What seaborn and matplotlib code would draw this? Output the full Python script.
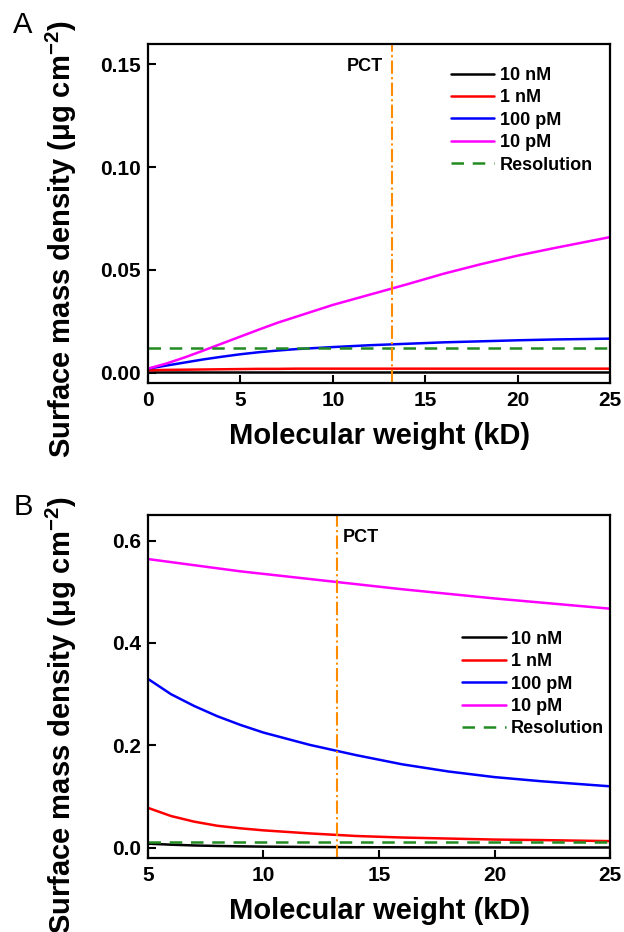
import numpy as np
import pandas as pd
import matplotlib
matplotlib.use("Agg")
import matplotlib.pyplot as plt
import seaborn as sns

# Panel A: molecular weight 0-25 kD
mw_a = [0, 1, 2, 3, 4, 5, 6, 7, 8, 10, 12, 14, 16, 18, 20, 22, 25]
a_10nM = [0.0005, 0.0005, 0.0005, 0.0005, 0.0005, 0.0005, 0.0005, 0.0005, 0.0005,
          0.0005, 0.0005, 0.0005, 0.0005, 0.0005, 0.0005, 0.0005, 0.0005]
a_1nM = [0.0012, 0.0014, 0.0015, 0.0016, 0.0017, 0.0018, 0.0019, 0.0019, 0.002,
         0.002, 0.002, 0.002, 0.002, 0.002, 0.002, 0.002, 0.002]
a_100pM = [0.002, 0.0035, 0.005, 0.0065, 0.0078, 0.009, 0.0100, 0.0108, 0.0115,
           0.0125, 0.0134, 0.0141, 0.0148, 0.0153, 0.0158, 0.0162, 0.0166]
a_10pM = [0.002, 0.0045, 0.0075, 0.0108, 0.0142, 0.0176, 0.0210, 0.0243, 0.0272,
          0.0330, 0.0380, 0.0430, 0.0482, 0.0528, 0.0570, 0.0607, 0.0660]

# Panel B: molecular weight 5-25 kD
mw_b = [5, 6, 7, 8, 9, 10, 12, 14, 16, 18, 20, 22, 25]
b_10nM = [0.008, 0.006, 0.0045, 0.0035, 0.0028, 0.0022, 0.0015, 0.0011, 0.0009,
          0.0007, 0.0006, 0.0005, 0.0005]
b_1nM = [0.078, 0.062, 0.051, 0.043, 0.038, 0.034, 0.028, 0.023, 0.020, 0.018,
         0.016, 0.015, 0.013]
b_100pM = [0.330, 0.300, 0.277, 0.257, 0.240, 0.225, 0.201, 0.181, 0.163, 0.149,
           0.138, 0.130, 0.120]
b_10pM = [0.564, 0.558, 0.552, 0.546, 0.540, 0.535, 0.525, 0.515, 0.505, 0.496,
          0.487, 0.479, 0.467]

resolution = 0.012
pct_mw = 13.2

labels = ["10 nM", "1 nM", "100 pM", "10 pM"]
colors = ["#000000", "#FF0000", "#0000FF", "#FF00FF"]

sns.set_theme(style="ticks")
plt.rcParams["font.family"] = ["Liberation Sans", "DejaVu Sans"]
plt.rcParams["font.weight"] = "bold"
plt.rcParams["axes.labelweight"] = "bold"
plt.rcParams["mathtext.fontset"] = "custom"
plt.rcParams["mathtext.rm"] = "Liberation Sans:bold"
plt.rcParams["mathtext.bf"] = "Liberation Sans:bold"
plt.rcParams["mathtext.it"] = "Liberation Sans:bold"
for key in ["text.color", "axes.labelcolor", "xtick.color", "ytick.color",
            "axes.edgecolor"]:
    plt.rcParams[key] = "black"


def long_form(x, series):
    frames = []
    for lab, vals in zip(labels, series):
        frames.append(pd.DataFrame({"mw": x, "density": vals, "conc": lab}))
    return pd.concat(frames, ignore_index=True)


fig = plt.figure(figsize=(6.24, 9.32), dpi=100)
ax_a = fig.add_axes([0.237, 0.589, 0.741, 0.364])
ax_b = fig.add_axes([0.237, 0.0794, 0.741, 0.368])

panels = [
    (ax_a, long_form(mw_a, [a_10nM, a_1nM, a_100pM, a_10pM]), (0, 25), (-0.005, 0.16),
     [0, 0.05, 0.10, 0.15], "{:.2f}", [0, 5, 10, 15, 20, 25], 0.425),
    (ax_b, long_form(mw_b, [b_10nM, b_1nM, b_100pM, b_10pM]), (5, 25), (-0.02, 0.65),
     [0, 0.2, 0.4, 0.6], "{:.1f}", [5, 10, 15, 20, 25], 0.417),
]

for ax, df, xlim, ylim, yticks, yfmt, xticks, ylab_y in panels:
    sns.lineplot(data=df, x="mw", y="density", hue="conc", hue_order=labels,
                 palette=colors, linewidth=1.8, ax=ax)
    ax.axhline(resolution, color="#228B22", linestyle=(0, (5, 3.5)), linewidth=1.8,
               label="Resolution")
    ax.axvline(pct_mw, color="#FF8C00", linestyle="-.", linewidth=1.5)
    ax.set_xlim(*xlim)
    ax.set_ylim(*ylim)
    ax.set_xticks(xticks)
    ax.set_yticks(yticks)
    ax.set_yticklabels([yfmt.format(v) for v in yticks])
    ax.tick_params(direction="in", length=6, width=1.5, labelsize=15)
    ax.tick_params(axis="x", pad=6)
    ax.tick_params(axis="y", pad=5)
    for lbl in ax.get_xticklabels() + ax.get_yticklabels():
        lbl.set_fontweight("bold")
    for sp in ax.spines.values():
        sp.set_linewidth(1.6)
        sp.set_color("black")
        sp.set_visible(True)
    ax.set_xlabel("Molecular weight (kD)", fontsize=21, fontweight="bold")
    ax.set_ylabel(r"Surface mass density ($\mu$g cm$^{-2}$)",
                  fontsize=21, fontweight="bold")
    ax.xaxis.set_label_coords(0.5, -0.115)
    ax.yaxis.set_label_coords(-0.148, ylab_y)

leg_kw = dict(frameon=False, handlelength=2.4, handletextpad=0.3, labelspacing=0.3,
              prop={"weight": "bold", "size": 13})
ax_a.legend(loc="upper left", bbox_to_anchor=(0.62, 0.98), **leg_kw)
ax_b.legend(loc="upper left", bbox_to_anchor=(0.645, 0.71), **leg_kw)

ax_a.text(pct_mw - 0.5, 0.149, "PCT", ha="right", va="center", fontsize=13,
          fontweight="bold")
ax_b.text(pct_mw + 0.25, 0.607, "PCT", ha="left", va="center", fontsize=13,
          fontweight="bold")

fig.text(0.037, 1 - 25 / 932, "A", fontsize=21, fontweight="normal",
         ha="center", va="center")
fig.text(0.037, 1 - 507 / 932, "B", fontsize=21, fontweight="normal",
         ha="center", va="center")

fig.savefig("out.png", dpi=100)
